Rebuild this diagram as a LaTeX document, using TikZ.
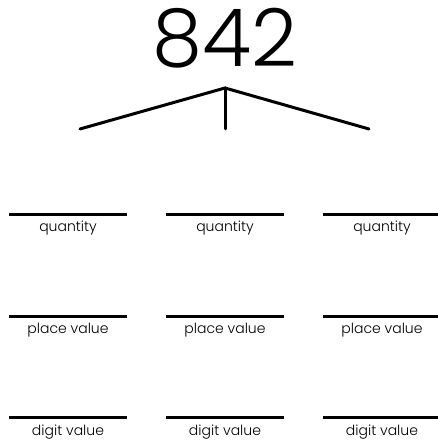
\documentclass[tikz,border=0pt]{standalone}
\usepackage{fontspec}
\setmainfont{Poppins}
\newfontfamily\numfont{Poppins Light}
\begin{document}
\begin{tikzpicture}[x=1pt,y=1pt,
  blank/.style={line width=3pt},
  branch/.style={line width=3pt, line cap=round},
  lbl/.style={font=\numfont\fontsize{14}{14}\selectfont, inner sep=0pt}]
\useasboundingbox (0,0) rectangle (438,444);
\node[anchor=base, inner sep=0pt, font=\numfont\fontsize{80}{80}\selectfont] (num) at (225,377) {842};
\coordinate (apex) at (225,356);
\coordinate (bl) at (80,315);
\coordinate (bm) at (225,315);
\coordinate (br) at (369,315);
\draw[branch] (bl) -- (apex) -- (br);
\draw[branch] (apex) -- (bm);
\foreach \c/\cx in {1/68,2/225,3/382}{
  \draw[blank] (\cx-59,229) -- (\cx+59,229);
  \node[lbl] (q\c) at (\cx,215.5) {quantity};
  \draw[blank] (\cx-59,127) -- (\cx+59,127);
  \node[lbl] (p\c) at (\cx,113.5) {place value};
  \draw[blank] (\cx-59,26) -- (\cx+59,26);
  \node[lbl] (d\c) at (\cx,11.5) {digit value};
}
\end{tikzpicture}
\end{document}
